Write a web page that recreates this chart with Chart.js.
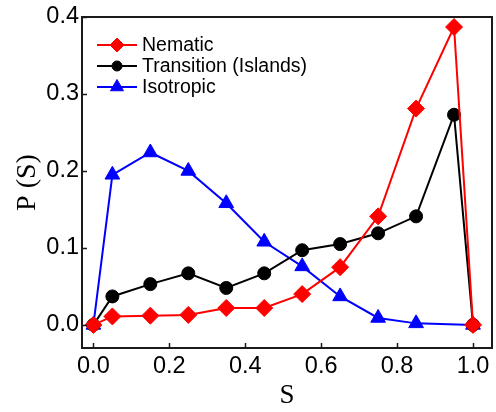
<!DOCTYPE html>
<html><head><meta charset="utf-8">
<script src="https://cdn.jsdelivr.net/npm/chart.js@4/dist/chart.umd.min.js"></script>
<style>html,body{margin:0;padding:0;background:#fff;}</style>
</head><body>
<canvas id="c" width="496" height="412"></canvas>
<script>
// ---- data ----
const sValues = [0, 0.05, 0.15, 0.25, 0.35, 0.45, 0.55, 0.65, 0.75, 0.85, 0.95, 1.0];
const nematic = [0, 0.011, 0.012, 0.013, 0.022, 0.022, 0.040, 0.075, 0.141, 0.281, 0.387, 0];
const transition = [0, 0.037, 0.053, 0.067, 0.048, 0.067, 0.097, 0.105, 0.119, 0.141, 0.273, 0];
const isoS = [0, 0.05, 0.15, 0.25, 0.35, 0.45, 0.55, 0.65, 0.75, 0.85, 1.0];
const isotropic = [0, 0.195, 0.224, 0.200, 0.158, 0.108, 0.076, 0.037, 0.009, 0.002, 0];
const seriesLabels = ['Nematic', 'Transition (Islands)', 'Isotropic'];
const xTicks = [0, 0.2, 0.4, 0.6, 0.8, 1.0];
const yTicks = [0, 0.1, 0.2, 0.3, 0.4];
const xTitle = 'S';
const yTitle = 'P (S)';

const toXY = (xs, ys) => xs.map((x, i) => ({x: x, y: ys[i]}));
const SANS = "'Liberation Sans', Arial, sans-serif";
const SERIF = "'Liberation Serif', 'Times New Roman', serif";

const legendMarkRadius = [7, 5, 7.5];

const framePlugin = {
  id: 'frame',
  afterDatasetsDraw(chart) {
    const {ctx, chartArea: a, scales} = chart;
    ctx.save();
    ctx.strokeStyle = '#1a1a1a';
    ctx.lineWidth = 2;
    ctx.strokeRect(a.left, a.top, a.right - a.left, a.bottom - a.top);
    ctx.lineWidth = 1.5;
    ctx.beginPath();
    scales.x.ticks.forEach(t => {
      const px = Math.round(scales.x.getPixelForValue(t.value)) + 0.5;
      ctx.moveTo(px, a.bottom); ctx.lineTo(px, a.bottom - 5);
    });
    scales.y.ticks.forEach(t => {
      const py = Math.round(scales.y.getPixelForValue(t.value)) + 0.5;
      ctx.moveTo(a.left, py); ctx.lineTo(a.left + 5, py);
    });
    ctx.stroke();
    // legend
    const x0 = a.left + 15, x1 = a.left + 55, tx = a.left + 60;
    chart.data.datasets.forEach((ds, i) => {
      const y = a.top + 28 + i * 21;
      ctx.strokeStyle = ds.borderColor;
      ctx.lineWidth = 2;
      ctx.beginPath(); ctx.moveTo(x0, y); ctx.lineTo(x1, y); ctx.stroke();
      ctx.fillStyle = ds.pointBackgroundColor;
      ctx.strokeStyle = ds.pointBorderColor;
      ctx.lineWidth = 1;
      Chart.helpers.drawPoint(ctx, {pointStyle: ds.pointStyle, rotation: 0, borderWidth: 1, radius: legendMarkRadius[i]}, (x0 + x1) / 2, y);
      ctx.fillStyle = '#000';
      ctx.font = '19.5px ' + SANS;
      ctx.textBaseline = 'middle';
      ctx.textAlign = 'left';
      ctx.fillText(ds.label, tx, y + 1);
    });
    ctx.restore();
  }
};

function mkDs(label, data, color, style, r) {
  return {
    label: label, data: data, borderColor: color, backgroundColor: color,
    pointBackgroundColor: color, pointBorderColor: color, pointStyle: style,
    pointRadius: r, pointHoverRadius: r, pointBorderWidth: 1, borderWidth: 2, tension: 0
  };
}

new Chart(document.getElementById('c'), {
  type: 'line',
  data: {
    datasets: [
      mkDs(seriesLabels[0], toXY(sValues, nematic), '#ff0000', 'rectRot', 8.5),
      mkDs(seriesLabels[1], toXY(sValues, transition), '#000000', 'circle', 6.5),
      mkDs(seriesLabels[2], toXY(isoS, isotropic), '#0000ff', 'triangle', 8.5)
    ]
  },
  options: {
    responsive: false,
    animation: false,
    devicePixelRatio: 1,
    layout: {autoPadding: false, padding: {top: 17, right: 4, left: 0, bottom: 0}},
    plugins: {legend: {display: false}, tooltip: {enabled: false}},
    scales: {
      x: {
        type: 'linear', min: -0.03, max: 1.05,
        afterBuildTicks: s => { s.ticks = xTicks.map(v => ({value: v})); },
        afterFit: s => { s.height = 64; s.paddingLeft = 0; s.paddingRight = 0; },
        grid: {display: false, drawTicks: false},
        border: {display: false},
        ticks: {font: {family: SANS, size: 23.5}, color: '#000', padding: 4,
                maxRotation: 0, autoSkip: false, callback: v => v.toFixed(1)},
        title: {display: true, text: xTitle, color: '#000',
                font: {family: SERIF, size: 27}, padding: {top: 0, bottom: 0}}
      },
      y: {
        type: 'linear', min: -0.03, max: 0.4,
        afterBuildTicks: s => { s.ticks = yTicks.map(v => ({value: v})); },
        afterFit: s => { s.width = 82; s.paddingTop = 0; s.paddingBottom = 0; },
        grid: {display: false, drawTicks: false},
        border: {display: false},
        ticks: {font: {family: SANS, size: 23.5}, color: '#000', padding: 3,
                autoSkip: false, callback: v => v.toFixed(1)},
        title: {display: true, text: yTitle, color: '#000',
                font: {family: SERIF, size: 28}, padding: {top: 11, bottom: 0}}
      }
    }
  },
  plugins: [framePlugin]
});
</script>
</body></html>
